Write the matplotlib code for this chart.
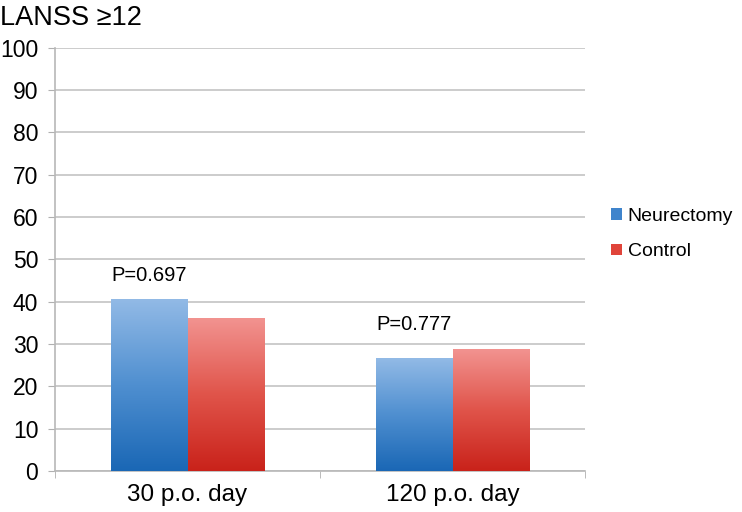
import numpy as np
import matplotlib
matplotlib.use('Agg')
import matplotlib.pyplot as plt
from matplotlib.colors import LinearSegmentedColormap
from matplotlib.patches import Patch

plt.rcParams['font.family'] = ['Liberation Sans', 'DejaVu Sans']

# data
categories = ['30 p.o. day', '120 p.o. day']
neurectomy = [40.4, 26.5]
control = [35.9, 28.8]
p_labels = ['P=0.697', 'P=0.777']
p_label_y = [46.2, 34.6]
series_names = ['Neurectomy', 'Control']

blue_cmap = LinearSegmentedColormap.from_list('blue', ['#1a67b5', '#4f8fd0', '#92bae6'])
red_cmap = LinearSegmentedColormap.from_list('red', ['#c9221a', '#e0544a', '#f29390'])

fig = plt.figure(figsize=(7.42, 5.12), dpi=100)
ax = fig.add_axes([55 / 742, 1 - 471 / 512, 530 / 742, 423.4 / 512])

width = 0.287
x = np.arange(len(categories))
grad = np.linspace(0, 1, 256).reshape(-1, 1)

for i in range(len(categories)):
    for vals, cmap, off in [(neurectomy, blue_cmap, -width / 2), (control, red_cmap, width / 2)]:
        x0 = x[i] + off - width / 2
        ax.imshow(grad, extent=[x0, x0 + width, 0, vals[i]], origin='lower',
                  aspect='auto', cmap=cmap, zorder=3, interpolation='bilinear')
    ax.text(x[i] - width / 2, p_label_y[i], p_labels[i], ha='center', va='center',
            fontsize=14.5, color='black', zorder=4)

ax.set_xlim(-0.5, 1.5)
ax.set_ylim(0, 100)
ax.set_yticks(np.arange(0, 101, 10))
ax.set_xticks(x)
ax.set_xticklabels(categories)
ax.set_xticks([-0.5, 0.5, 1.5], minor=True)
ax.tick_params(axis='x', which='major', length=0, labelsize=17.5, pad=9)
ax.tick_params(axis='x', which='minor', length=5, color='#b0b0b0')
ax.tick_params(axis='y', length=5, color='#b0b0b0', labelsize=16.5, pad=7)

ax.grid(axis='y', color='#c4c4c4', linewidth=1.2, zorder=0)
ax.set_axisbelow(True)
for s in ['top', 'right']:
    ax.spines[s].set_visible(False)
for s in ['left', 'bottom']:
    ax.spines[s].set_color('#b8b8b8')
    ax.spines[s].set_linewidth(1.2)

fig.text(0, 1 - 18 / 512, 'LANSS \u226512', fontsize=19.5, va='center', ha='left')

handles = [Patch(facecolor='#3f84cc', edgecolor='none'),
           Patch(facecolor='#e0443a', edgecolor='none')]
fig.legend(handles, series_names, loc='center left', bbox_to_anchor=(611 / 742, 1 - 234 / 512),
           frameon=False, fontsize=14, handlelength=0.55, handleheight=0.55,
           handletextpad=0.3, labelspacing=0.95, borderpad=0, borderaxespad=0)

fig.savefig('out.png', dpi=100)
